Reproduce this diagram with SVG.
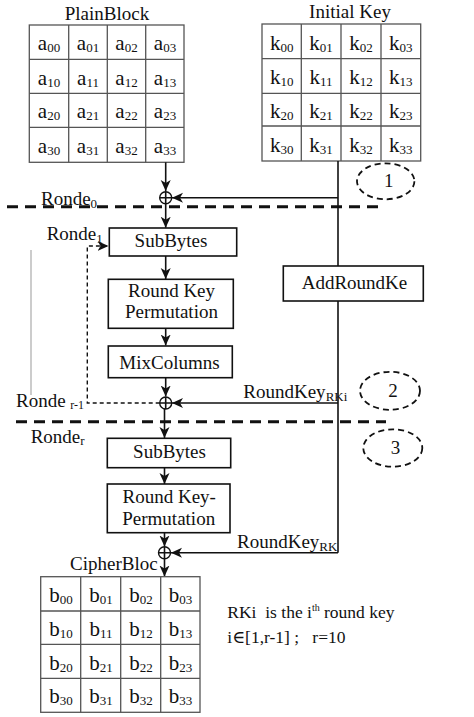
<svg xmlns="http://www.w3.org/2000/svg" width="474" height="717" viewBox="0 0 474 717" font-family="'Liberation Serif', 'DejaVu Serif', serif">
<style>
text{font-family:'Liberation Serif','DejaVu Serif',serif;fill:#111;}
.t{font-size:19px;}
.c{font-size:21px;text-anchor:middle;}
.m{text-anchor:middle;font-size:19px;}
.grid{fill:#fff;stroke:#555;stroke-width:1.3;}
.gl{stroke:#555;stroke-width:1.3;}
.box{fill:#fff;stroke:#111;stroke-width:1.6;}
.ln{stroke:#111;stroke-width:1.6;fill:none;}
.dash{stroke:#111;stroke-width:3;stroke-dasharray:11 7;fill:none;}
.fb{stroke:#111;stroke-width:1.4;stroke-dasharray:4 3;fill:none;}
.ell{fill:none;stroke:#111;stroke-width:1.8;stroke-dasharray:6 4;}
.xor{fill:#fff;stroke:#111;stroke-width:1.4;}
</style>
<defs>
<marker id="ah" markerUnits="userSpaceOnUse" markerWidth="12" markerHeight="12" viewBox="0 0 12 12" refX="11" refY="6" orient="auto">
<path d="M0,1 L11,6 L0,11 L3,6 Z" fill="#111"/>
</marker>
</defs>

<g id="plainblock">
<text class="t" x="107" y="20" text-anchor="middle">PlainBlock</text>
<rect class="grid" x="29.3" y="25" width="154.7" height="137.3"/>
<path class="gl" d="M68.7,25V162.3M107.3,25V162.3M145.7,25V162.3M29.3,59.3H184M29.3,93.3H184M29.3,127.3H184"/>
<text class="c" x="49" y="50">a<tspan font-size="13" dy="2">00</tspan></text>
<text class="c" x="88" y="50">a<tspan font-size="13" dy="2">01</tspan></text>
<text class="c" x="126.5" y="50">a<tspan font-size="13" dy="2">02</tspan></text>
<text class="c" x="165" y="50">a<tspan font-size="13" dy="2">03</tspan></text>
<text class="c" x="49" y="84.5">a<tspan font-size="13" dy="2">10</tspan></text>
<text class="c" x="88" y="84.5">a<tspan font-size="13" dy="2">11</tspan></text>
<text class="c" x="126.5" y="84.5">a<tspan font-size="13" dy="2">12</tspan></text>
<text class="c" x="165" y="84.5">a<tspan font-size="13" dy="2">13</tspan></text>
<text class="c" x="49" y="118.3">a<tspan font-size="13" dy="2">20</tspan></text>
<text class="c" x="88" y="118.3">a<tspan font-size="13" dy="2">21</tspan></text>
<text class="c" x="126.5" y="118.3">a<tspan font-size="13" dy="2">22</tspan></text>
<text class="c" x="165" y="118.3">a<tspan font-size="13" dy="2">23</tspan></text>
<text class="c" x="49" y="152.5">a<tspan font-size="13" dy="2">30</tspan></text>
<text class="c" x="88" y="152.5">a<tspan font-size="13" dy="2">31</tspan></text>
<text class="c" x="126.5" y="152.5">a<tspan font-size="13" dy="2">32</tspan></text>
<text class="c" x="165" y="152.5">a<tspan font-size="13" dy="2">33</tspan></text>
</g>

<g id="initialkey">
<text class="t" x="350" y="18" text-anchor="middle">Initial Key</text>
<rect class="grid" x="262" y="24" width="158.7" height="137"/>
<path class="gl" d="M301.3,24V161M341,24V161M381,24V161M262,58.7H420.7M262,93.3H420.7M262,126H420.7"/>
<text class="c" x="281.7" y="50">k<tspan font-size="13" dy="2">00</tspan></text>
<text class="c" x="321" y="50">k<tspan font-size="13" dy="2">01</tspan></text>
<text class="c" x="361" y="50">k<tspan font-size="13" dy="2">02</tspan></text>
<text class="c" x="400.8" y="50">k<tspan font-size="13" dy="2">03</tspan></text>
<text class="c" x="281.7" y="83.5">k<tspan font-size="13" dy="2">10</tspan></text>
<text class="c" x="321" y="83.5">k<tspan font-size="13" dy="2">11</tspan></text>
<text class="c" x="361" y="83.5">k<tspan font-size="13" dy="2">12</tspan></text>
<text class="c" x="400.8" y="83.5">k<tspan font-size="13" dy="2">13</tspan></text>
<text class="c" x="281.7" y="117.7">k<tspan font-size="13" dy="2">20</tspan></text>
<text class="c" x="321" y="117.7">k<tspan font-size="13" dy="2">21</tspan></text>
<text class="c" x="361" y="117.7">k<tspan font-size="13" dy="2">22</tspan></text>
<text class="c" x="400.8" y="117.7">k<tspan font-size="13" dy="2">23</tspan></text>
<text class="c" x="281.7" y="151.7">k<tspan font-size="13" dy="2">30</tspan></text>
<text class="c" x="321" y="151.7">k<tspan font-size="13" dy="2">31</tspan></text>
<text class="c" x="361" y="151.7">k<tspan font-size="13" dy="2">32</tspan></text>
<text class="c" x="400.8" y="151.7">k<tspan font-size="13" dy="2">33</tspan></text>
</g>

<g id="round-separators">
<path class="dash" d="M7,206.7H380"/>
<path class="dash" d="M16,421.7H386"/>
<line x1="31" y1="250" x2="31" y2="395" stroke="#999" stroke-width="1"/>
</g>

<g id="round-labels">
<text class="t" x="41" y="205">Ronde<tspan font-size="13" dy="3">0</tspan></text>
<text class="t" x="46.7" y="240">Ronde<tspan font-size="13" dy="3">1</tspan></text>
<text class="t" x="16" y="407.3" xml:space="preserve">Ronde <tspan font-size="12" dy="2">r-1</tspan></text>
<text class="t" x="30.7" y="443.3">Ronde<tspan font-size="13" dy="2">r</tspan></text>
</g>

<g id="step1">
<ellipse class="ell" cx="385.7" cy="181.3" rx="28.7" ry="18"/>
<text class="m" x="388.7" y="187">1</text>
</g>
<g id="step2">
<ellipse class="ell" cx="390" cy="390.8" rx="30" ry="19"/>
<text class="m" x="393" y="397">2</text>
</g>
<g id="step3">
<ellipse class="ell" cx="392.8" cy="448" rx="29.5" ry="18.7"/>
<text class="m" x="395.5" y="453.5">3</text>
</g>

<g id="connectors">
<path class="ln" d="M165.7,162.3V191" marker-end="url(#ah)"/>
<path class="ln" d="M338,161V266"/>
<path class="ln" d="M338,197.7H172" marker-end="url(#ah)"/>
<path class="ln" d="M165.7,203.7V227.7" marker-end="url(#ah)"/>
<path class="ln" d="M165.7,256V279" marker-end="url(#ah)"/>
<path class="ln" d="M165.7,328.3V345.5" marker-end="url(#ah)"/>
<path class="ln" d="M165.7,378V396.5" marker-end="url(#ah)"/>
<path class="ln" d="M338,301V552.7"/>
<path class="ln" d="M338,403H172" marker-end="url(#ah)"/>
<path class="fb" d="M159.7,403H87.3V246H108.5" marker-end="url(#ah)"/>
<path class="ln" d="M164.5,409V438" marker-end="url(#ah)"/>
<path class="ln" d="M164.5,467.7V484" marker-end="url(#ah)"/>
<path class="ln" d="M164.5,532.7V546.5" marker-end="url(#ah)"/>
<path class="ln" d="M338,552.7H171" marker-end="url(#ah)"/>
<path class="ln" d="M164.5,558.7V576.5" marker-end="url(#ah)"/>
</g>

<g id="xor1">
<circle class="xor" cx="165.7" cy="197.7" r="6"/>
<path class="ln" stroke-width="1.3" d="M159.7,197.7H171.7M165.7,191.7V203.7"/>
</g>
<g id="xor2">
<circle class="xor" cx="165.7" cy="403" r="6"/>
<path class="ln" stroke-width="1.3" d="M159.7,403H171.7M165.7,397V409"/>
</g>
<g id="xor3">
<circle class="xor" cx="164.5" cy="552.7" r="6"/>
<path class="ln" stroke-width="1.3" d="M158.5,552.7H170.5M164.5,546.7V558.7"/>
</g>

<g id="subbytes1">
<rect class="box" x="109.3" y="228" width="127.4" height="28"/>
<text class="m" x="171" y="247.3">SubBytes</text>
</g>
<g id="rkp1">
<rect class="box" x="108.3" y="279.3" width="125" height="49"/>
<text class="m" x="171.5" y="296.7">Round Key</text>
<text class="m" x="171.5" y="318.3">Permutation</text>
</g>
<g id="mixcolumns">
<rect class="box" x="108.3" y="346" width="124" height="31.7"/>
<text class="m" x="169.5" y="369.3">MixColumns</text>
</g>
<g id="addroundkey">
<rect class="box" x="283.3" y="266" width="140" height="35"/>
<text class="m" x="354.5" y="289">AddRoundKe</text>
</g>
<g id="roundkey-labels">
<text class="t" x="243.3" y="398.3">RoundKey<tspan font-size="13" dy="3">RKi</tspan></text>
<text class="t" x="237" y="548.3">RoundKey<tspan font-size="13" dy="3">RK</tspan></text>
</g>
<g id="subbytes2">
<rect class="box" x="107.3" y="438.3" width="123.4" height="29.4"/>
<text class="m" x="169.5" y="457.7">SubBytes</text>
</g>
<g id="rkp2">
<rect class="box" x="107.3" y="484" width="122.7" height="48.7"/>
<text class="m" x="169.2" y="503.3">Round Key-</text>
<text class="m" x="168.7" y="525">Permutation</text>
</g>

<g id="cipherblock">
<text class="t" x="70" y="570">CipherBloc</text>
<rect class="grid" x="40.7" y="576.7" width="159.3" height="135.6"/>
<path class="gl" d="M80.7,576.7V712.3M120.7,576.7V712.3M160.7,576.7V712.3M40.7,611H200M40.7,644.3H200M40.7,678.3H200"/>
<text class="c" x="61" y="601.7">b<tspan font-size="13" dy="2">00</tspan></text>
<text class="c" x="101" y="601.7">b<tspan font-size="13" dy="2">01</tspan></text>
<text class="c" x="141" y="601.7">b<tspan font-size="13" dy="2">02</tspan></text>
<text class="c" x="180.5" y="601.7">b<tspan font-size="13" dy="2">03</tspan></text>
<text class="c" x="61" y="636">b<tspan font-size="13" dy="2">10</tspan></text>
<text class="c" x="101" y="636">b<tspan font-size="13" dy="2">11</tspan></text>
<text class="c" x="141" y="636">b<tspan font-size="13" dy="2">12</tspan></text>
<text class="c" x="180.5" y="636">b<tspan font-size="13" dy="2">13</tspan></text>
<text class="c" x="61" y="670">b<tspan font-size="13" dy="2">20</tspan></text>
<text class="c" x="101" y="670">b<tspan font-size="13" dy="2">21</tspan></text>
<text class="c" x="141" y="670">b<tspan font-size="13" dy="2">22</tspan></text>
<text class="c" x="180.5" y="670">b<tspan font-size="13" dy="2">23</tspan></text>
<text class="c" x="61" y="703.3">b<tspan font-size="13" dy="2">30</tspan></text>
<text class="c" x="101" y="703.3">b<tspan font-size="13" dy="2">31</tspan></text>
<text class="c" x="141" y="703.3">b<tspan font-size="13" dy="2">32</tspan></text>
<text class="c" x="180.5" y="703.3">b<tspan font-size="13" dy="2">33</tspan></text>
</g>

<g id="legend">
<text x="227.3" y="618.3" font-size="17.5" xml:space="preserve">RKi  is the i<tspan font-size="10" dy="-7">th</tspan><tspan dy="7"> round key</tspan></text>
<text x="227.3" y="643.3" font-size="17.5" xml:space="preserve">i∈[1,r-1] ;   r=10</text>
</g>
</svg>
